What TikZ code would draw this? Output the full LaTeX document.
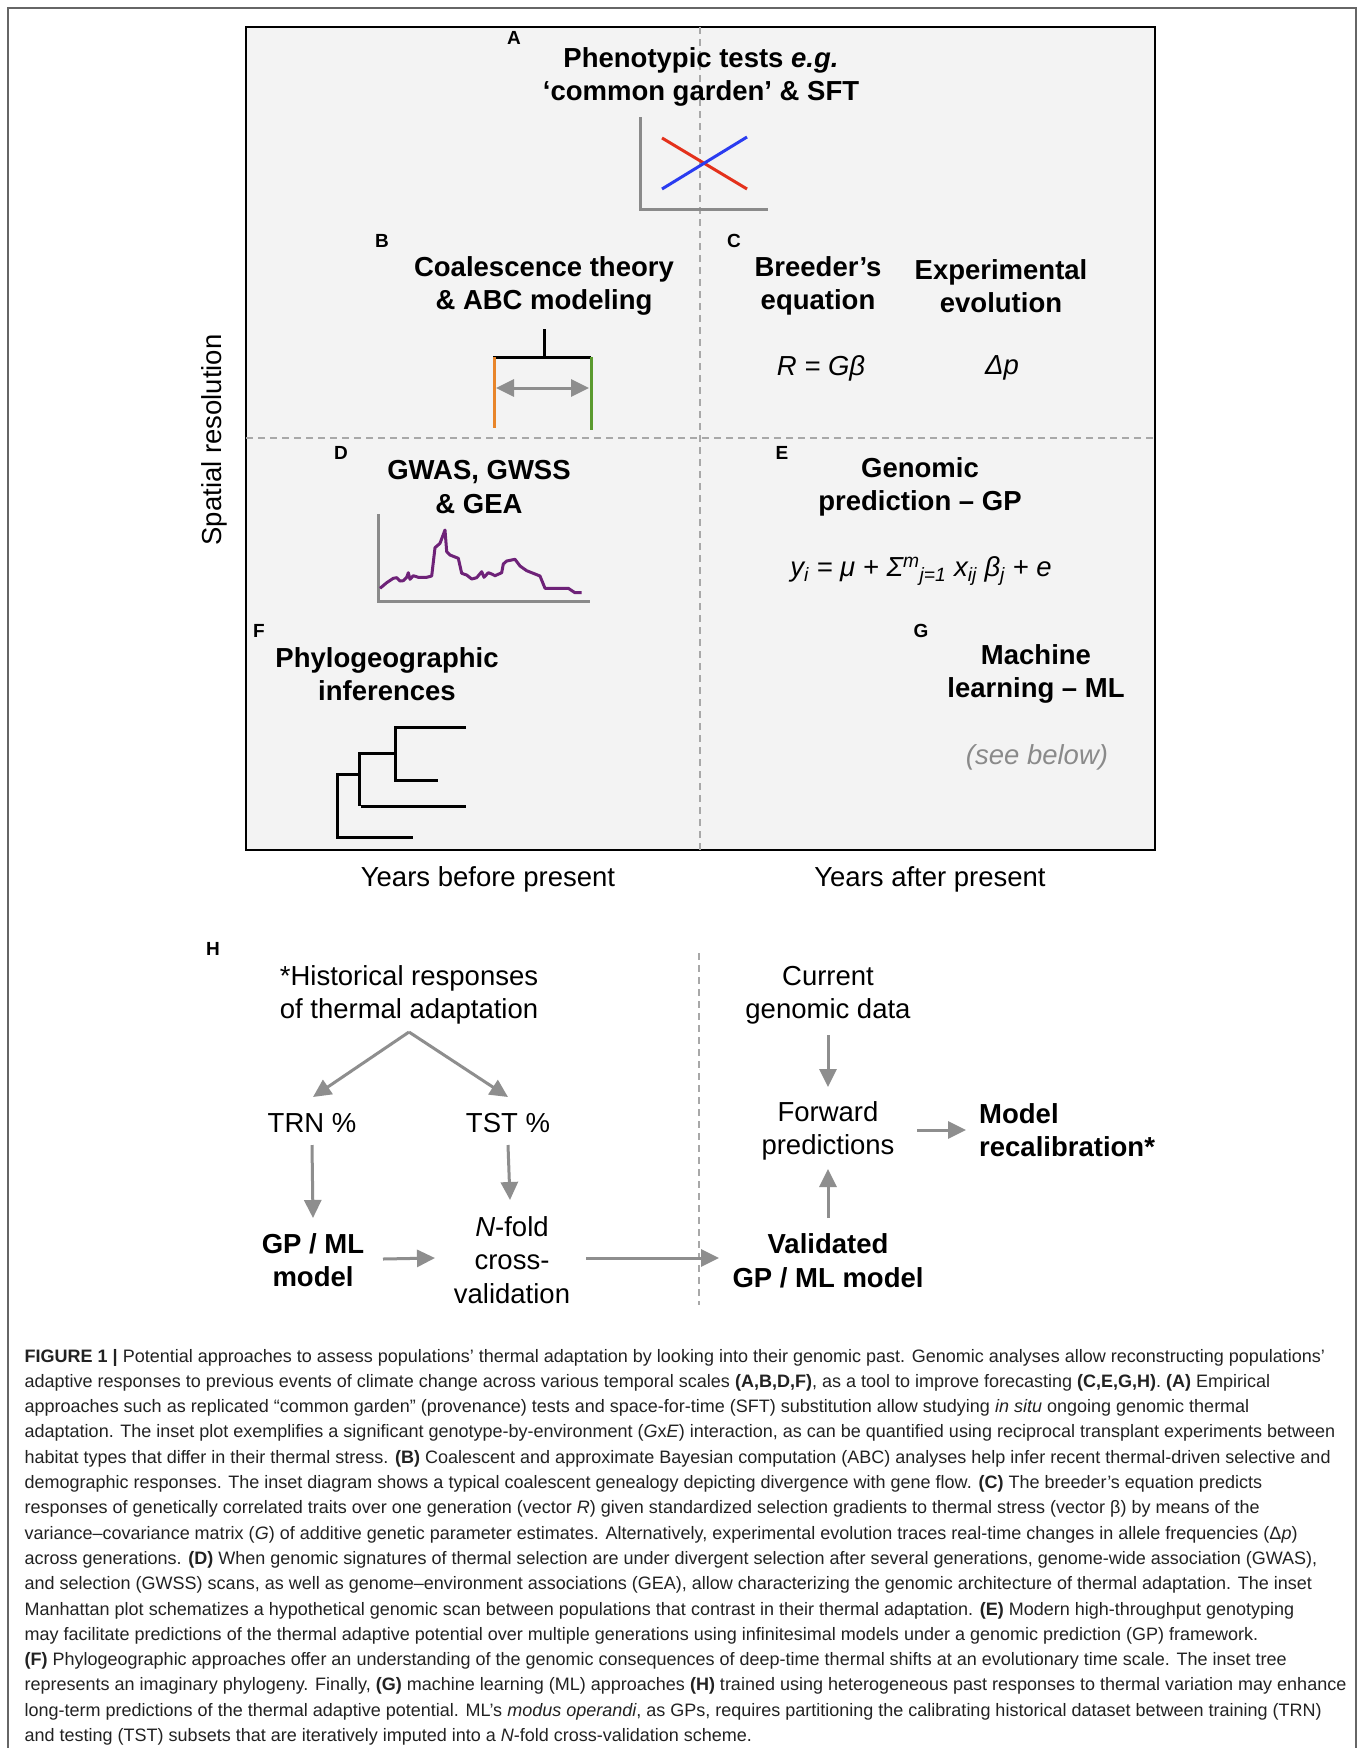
\documentclass[tikz,border=0pt]{standalone}
\usepackage{fontspec}
\setmainfont{Liberation Sans}
\usetikzlibrary{arrows.meta}
\definecolor{panelbg}{HTML}{F3F3F3}
\definecolor{framegray}{HTML}{666666}
\definecolor{arrgray}{HTML}{8E8E8E}
\definecolor{dashgray}{HTML}{A8A8A8}
\definecolor{axisgray}{HTML}{8A8A8A}
\definecolor{ired}{HTML}{E4311B}
\definecolor{iblue}{HTML}{2A3CF0}
\definecolor{iorange}{HTML}{E8852A}
\definecolor{igreen}{HTML}{5A9A2E}
\definecolor{ipurple}{HTML}{6E2278}
\definecolor{captext}{HTML}{222222}
\definecolor{seegray}{HTML}{8A8A8A}
\begin{document}
\begin{tikzpicture}[x=1pt,y=-1pt,
  hd/.style={font=\fontsize{27.5}{33.5}\selectfont\bfseries, align=center, inner sep=0pt},
  tx/.style={font=\fontsize{27.5}{33.5}\selectfont, align=center, inner sep=0pt},
  it/.style={font=\fontsize{27.5}{33.5}\selectfont\itshape, align=center, inner sep=0pt},
  lab/.style={font=\fontsize{19}{22}\selectfont\bfseries, inner sep=0pt},
  garr/.style={draw=arrgray, line width=3pt, -{Triangle[length=18pt,width=17pt]}},
  sepline/.style={draw=dashgray, line width=1.5pt, dash pattern=on 7pt off 5pt},
  capline/.style={anchor=base west, font=\fontsize{18}{20}\selectfont, inner sep=0pt, text=captext},
  inset/.style={line width=3pt}
]
\useasboundingbox (0,0) rectangle (1358,1748);
\fill[white] (0,0) rectangle (1358,1748);
% outer frame
\draw[framegray, line width=2pt] (8,1748) -- (8,8) -- (1356,8) -- (1356,1748);
% panel
\draw[fill=panelbg, line width=1.6pt] (246,27) rectangle (1155,850);
\draw[sepline] (700,27) -- (700,850);
\draw[sepline] (246,438) -- (1155,438);

% labels
\node[lab] (la) at (514,38) {A};
\node[lab] (lb) at (382,241) {B};
\node[lab] (lc) at (734,241) {C};
\node[lab] (ld) at (341,453) {D};
\node[lab] (le) at (782,453) {E};
\node[lab] (lf) at (259,631) {F};
\node[lab] (lg) at (921,631) {G};
\node[lab] (lh) at (213,949) {H};

% A
\node[hd] (pheno) at (701,77) {Phenotypic tests \textit{e.g.}\\‘common garden’ \& SFT};
\draw[axisgray, inset] (640,117) -- (640,209) -- (768,209);
\draw[ired, inset] (662,138) -- (747,189);
\draw[iblue, inset] (662,189) -- (747,137);

% B
\node[hd] (coal) at (544,286) {Coalescence theory\\\& ABC modeling};
\draw[black, inset] (544,329) -- (544,357);
\draw[black, inset] (493,357) -- (591,357);
\draw[iorange, inset] (494,357) -- (494,428);
\draw[igreen, inset] (591,357) -- (591,430);
\draw[arrgray, line width=3pt, {Triangle[length=18pt,width=17pt]}-{Triangle[length=18pt,width=17pt]}] (496,388) -- (589,388);

% C
\node[hd] (breed) at (818,286) {Breeder’s\\equation};
\node[hd] (expev) at (1001,286) {Experimental\\evolution};
\node[it] (req) at (821,368) {R = Gβ};
\node[it] (dp) at (1002,368) {Δp};

% D
\node[hd] (gwas) at (479,487) {GWAS, GWSS\\\& GEA};
\draw[axisgray, inset] (378,514) -- (378,601) -- (590,601);
\draw[ipurple, inset, line join=round] (380,588.3) -- (386.7,582.7) -- (393.3,578.3) -- (396.7,577.7) -- (400,581) -- (403.3,580.7) -- (406.7,577.3) -- (408.3,572.7) -- (410,579.3) -- (413.3,575.7) -- (418.3,577.3) -- (426.7,577.3) -- (431.7,576) -- (435,547.7) -- (440,543.3) -- (445,530) -- (446.7,551.7) -- (450,555) -- (458.3,558.3) -- (461.7,573.3) -- (466.7,575) -- (471.7,579) -- (476.7,577.7) -- (481.7,571.7) -- (484,577.3) -- (488.3,572.7) -- (491.7,574) -- (495,575.7) -- (501.7,572.7) -- (503.3,564) -- (506.7,561) -- (515,559.3) -- (520,566) -- (526.7,570.7) -- (540,576) -- (545,588.3) -- (568.3,588.3) -- (575,592.7) -- (581.7,592.7);

% E
\node[hd] (gp) at (920,487) {Genomic\\prediction – GP};
\node[it] (eq) at (921,571) {y\textsubscript{i} = μ + Σ\textsuperscript{m}\textsubscript{j=1} x\textsubscript{ij} β\textsubscript{j} + e};

% F
\node[hd] (phylo) at (387,674) {Phylogeographic\\inferences};
\draw[black, inset] (466,727) -- (395,727) -- (395,780) -- (438,780);
\draw[black, inset] (395,753) -- (359,753) -- (359,806);
\draw[black, inset] (361,806) -- (466,806);
\draw[black, inset] (359,774) -- (337,774) -- (337,837) -- (413,837);

% G
\node[hd] (ml) at (1036,674) {Machine\\learning – ML};
\node[it, text=seegray] (see) at (1037,757) {(see below)};

% axes
\node[tx, rotate=90] (spat) at (214,440) {Spatial resolution};
\node[tx] (ybp) at (488,879) {Years before present};
\node[tx] (yap) at (930,879) {Years after present};

% H
\draw[sepline] (699,953) -- (699,1305);
\node[tx] (hist) at (409,995) {*Historical responses\\of thermal adaptation};
\coordinate (apex) at (409,1032);
\node[tx] (trn) at (312,1123) {TRN \%};
\node[tx] (tst) at (508,1123) {TST \%};
\node[hd] (gpml) at (313,1260) {GP / ML\\model};
\node[tx] (nfold) at (512,1260) {\textit{N}-fold\\cross-\\validation};
\node[tx] (cur) at (828,995) {Current\\genomic data};
\node[tx] (fwd) at (828,1131) {Forward\\predictions};
\node[hd] (valid) at (828,1261) {Validated\\GP / ML model};
\node[hd, align=left, anchor=west] (model) at (979,1130) {Model\\recalibration*};

\draw[garr] (apex) -- ([xshift=1pt,yshift=26pt]trn.center);
\draw[garr] (apex) -- ([yshift=26pt]tst.center);
\draw[garr] ([yshift=-22pt]trn.center) -- ([yshift=42pt]gpml.center);
\draw[garr] ([yshift=-22pt]tst.center) -- ([xshift=-2pt,yshift=60pt]nfold.center);
\draw[garr] ([xshift=70pt,yshift=1pt]gpml.center) -- ([xshift=-77pt,yshift=2pt]nfold.center);
\draw[garr] ([xshift=74pt,yshift=2pt]nfold.center) -- ([xshift=-109pt,yshift=2pt]nfold.center -| valid.center);
\draw[garr] ([yshift=-40pt]cur.center) -- ([yshift=44pt]fwd.center);
\draw[garr] ([yshift=43pt]valid.center) -- ([yshift=-38pt]fwd.center);
\draw[garr] ([xshift=89pt,yshift=1pt]fwd.center) -- ([xshift=-13pt]model.west);

% caption
\node[capline] (c1) at (24.5,1362) {\textbf{FIGURE 1 |} Potential approaches to assess populations’ thermal adaptation by looking into their genomic past. Genomic analyses allow reconstructing populations’};
\node[capline] (c2) at (24.5,1387.3) {adaptive responses to previous events of climate change across various temporal scales \textbf{(A,B,D,F)}, as a tool to improve forecasting \textbf{(C,E,G,H)}. \textbf{(A)} Empirical};
\node[capline] (c3) at (24.5,1412.6) {approaches such as replicated “common garden” (provenance) tests and space-for-time (SFT) substitution allow studying \textit{in situ} ongoing genomic thermal};
\node[capline] (c4) at (24.5,1437.9) {adaptation. The inset plot exemplifies a significant genotype-by-environment (\textit{G}x\textit{E}) interaction, as can be quantified using reciprocal transplant experiments between};
\node[capline] (c5) at (24.5,1463.2) {habitat types that differ in their thermal stress. \textbf{(B)} Coalescent and approximate Bayesian computation (ABC) analyses help infer recent thermal-driven selective and};
\node[capline] (c6) at (24.5,1488.5) {demographic responses. The inset diagram shows a typical coalescent genealogy depicting divergence with gene flow. \textbf{(C)} The breeder’s equation predicts};
\node[capline] (c7) at (24.5,1513.8) {responses of genetically correlated traits over one generation (vector \textit{R}) given standardized selection gradients to thermal stress (vector β) by means of the};
\node[capline] (c8) at (24.5,1539.1) {variance–covariance matrix (\textit{G}) of additive genetic parameter estimates. Alternatively, experimental evolution traces real-time changes in allele frequencies (Δ\textit{p})};
\node[capline] (c9) at (24.5,1564.4) {across generations. \textbf{(D)} When genomic signatures of thermal selection are under divergent selection after several generations, genome-wide association (GWAS),};
\node[capline] (c10) at (24.5,1589.7) {and selection (GWSS) scans, as well as genome–environment associations (GEA), allow characterizing the genomic architecture of thermal adaptation. The inset};
\node[capline] (c11) at (24.5,1615) {Manhattan plot schematizes a hypothetical genomic scan between populations that contrast in their thermal adaptation. \textbf{(E)} Modern high-throughput genotyping};
\node[capline] (c12) at (24.5,1640.3) {may facilitate predictions of the thermal adaptive potential over multiple generations using infinitesimal models under a genomic prediction (GP) framework.};
\node[capline] (c13) at (24.5,1665.6) {\textbf{(F)} Phylogeographic approaches offer an understanding of the genomic consequences of deep-time thermal shifts at an evolutionary time scale. The inset tree};
\node[capline] (c14) at (24.5,1690.9) {represents an imaginary phylogeny. Finally, \textbf{(G)} machine learning (ML) approaches \textbf{(H)} trained using heterogeneous past responses to thermal variation may enhance};
\node[capline] (c15) at (24.5,1716.2) {long-term predictions of the thermal adaptive potential. ML’s \textit{modus operandi}, as GPs, requires partitioning the calibrating historical dataset between training (TRN)};
\node[capline] (c16) at (24.5,1741.5) {and testing (TST) subsets that are iteratively imputed into a \textit{N}-fold cross-validation scheme.};
\end{tikzpicture}
\end{document}
